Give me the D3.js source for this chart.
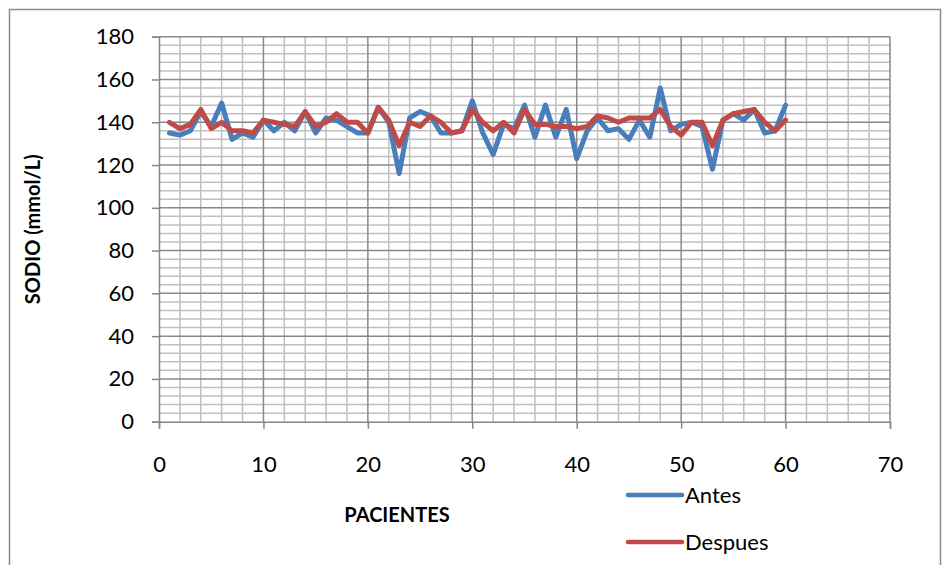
<!DOCTYPE html>
<html>
<head>
<meta charset="utf-8">
<script src="https://cdn.jsdelivr.net/npm/d3@7"></script>
<style>
  html, body { margin: 0; padding: 0; background: #fff; }
  svg { display: block; font-family: Lato, "Open Sans", sans-serif; }
</style>
</head>
<body>
<div id="chart"></div>
<script>
/* Sodio antes / después por paciente */
const pacientes = d3.range(1, 61);
const antes = [135, 134, 136, 145, 138, 149, 132, 135, 133, 141,
               136, 140, 136, 145, 135, 142, 141, 138, 135, 135,
               147, 140, 116, 142, 145, 143, 135, 135, 136, 150,
               135, 125, 139, 137, 148, 133, 148, 133, 146, 123,
               136, 142, 136, 137, 132, 141, 133, 156, 136, 139,
               140, 138, 118, 141, 144, 141, 146, 135, 136, 148];
const despues = [140, 137, 139, 146, 137, 140, 136, 136, 135, 141,
                 140, 139, 138, 145, 138, 140, 144, 140, 140, 135,
                 147, 141, 129, 140, 138, 143, 140, 135, 136, 146,
                 140, 136, 140, 135, 146, 139, 139, 138, 138, 137,
                 138, 143, 142, 140, 142, 142, 142, 146, 138, 134,
                 140, 140, 129, 141, 144, 145, 146, 140, 136, 141];
const xTicks = [0, 10, 20, 30, 40, 50, 60, 70];
const yTicks = [0, 20, 40, 60, 80, 100, 120, 140, 160, 180];
const series = [
  { name: "Antes", color: "#4A7EBB", values: antes },
  { name: "Despues", color: "#BE4B48", values: despues }
];

const W = 950, H = 565;
const M = { l: 159, r: 890, t: 36.7, b: 421.7 };
const svg = d3.select("#chart").append("svg").attr("width", W).attr("height", H);

/* marco del gráfico */
svg.append("rect").attr("x", 9.5).attr("y", 9.5).attr("width", 931).attr("height", 600)
  .attr("fill", "#fff").attr("stroke", "#8c8c8c").attr("stroke-width", 1.5);

const x = d3.scaleLinear().domain([0, 70]).range([M.l, M.r]);
const y = d3.scaleLinear().domain([0, 180]).range([M.b, M.t]);

/* cuadrícula menor */
svg.append("g").selectAll("line").data(d3.range(0, 71, 2).filter(v => v % 10)).join("line")
  .attr("x1", d => x(d)).attr("x2", d => x(d)).attr("y1", M.t).attr("y2", M.b)
  .attr("stroke", "#c0c0c0").attr("stroke-width", 1.5);
svg.append("g").selectAll("line").data(d3.range(0, 181, 4).filter(v => v % 20)).join("line")
  .attr("x1", M.l).attr("x2", M.r).attr("y1", d => y(d)).attr("y2", d => y(d))
  .attr("stroke", "#c0c0c0").attr("stroke-width", 1.5);

/* cuadrícula mayor */
svg.append("g").selectAll("line").data(xTicks.slice(1)).join("line")
  .attr("x1", d => x(d)).attr("x2", d => x(d)).attr("y1", M.t).attr("y2", M.b)
  .attr("stroke", "#8a8a8a").attr("stroke-width", 1.5);
svg.append("g").selectAll("line").data(yTicks.slice(1)).join("line")
  .attr("x1", M.l).attr("x2", M.r).attr("y1", d => y(d)).attr("y2", d => y(d))
  .attr("stroke", "#8a8a8a").attr("stroke-width", 1.5);

/* ejes */
const gx = svg.append("g").attr("transform", `translate(0,${M.b})`)
  .call(d3.axisBottom(x).tickValues(xTicks).tickSize(7).tickPadding(28));
const gy = svg.append("g").attr("transform", `translate(${M.l},0)`)
  .call(d3.axisLeft(y).tickValues(yTicks).tickSize(7).tickPadding(18));
[gx, gy].forEach(g => {
  g.select(".domain").attr("stroke", "#868686").attr("stroke-width", 1.5);
  g.selectAll(".tick line").attr("stroke", "#868686").attr("stroke-width", 1.5);
  g.selectAll("text").attr("font-family", "Lato, sans-serif").attr("font-size", 22).attr("fill", "#000");
});

/* líneas */
const line = d3.line().x((d, i) => x(pacientes[i])).y(d => y(d));
series.forEach(s => {
  svg.append("path").attr("d", line(s.values))
    .attr("fill", "none").attr("stroke", s.color).attr("stroke-width", 5)
    .attr("stroke-linejoin", "round").attr("stroke-linecap", "round");
});

/* títulos de ejes */
svg.append("text").attr("transform", `translate(40,${(M.t + M.b) / 2}) rotate(-90)`)
  .attr("text-anchor", "middle").attr("font-weight", "bold").attr("font-size", 20)
  .text("SODIO (mmol/L)");
svg.append("text").attr("x", 397).attr("y", 522)
  .attr("text-anchor", "middle").attr("font-weight", "bold").attr("font-size", 20)
  .text("PACIENTES");

/* leyenda */
const lg = svg.append("g").selectAll("g").data(series).join("g")
  .attr("transform", (d, i) => `translate(628,${495 + i * 47})`);
lg.append("line").attr("x1", 0).attr("x2", 54).attr("stroke", d => d.color)
  .attr("stroke-width", 4.5).attr("stroke-linecap", "round");
lg.append("text").attr("x", 57).attr("y", 8).attr("font-size", 22).text(d => d.name);
</script>
</body>
</html>
